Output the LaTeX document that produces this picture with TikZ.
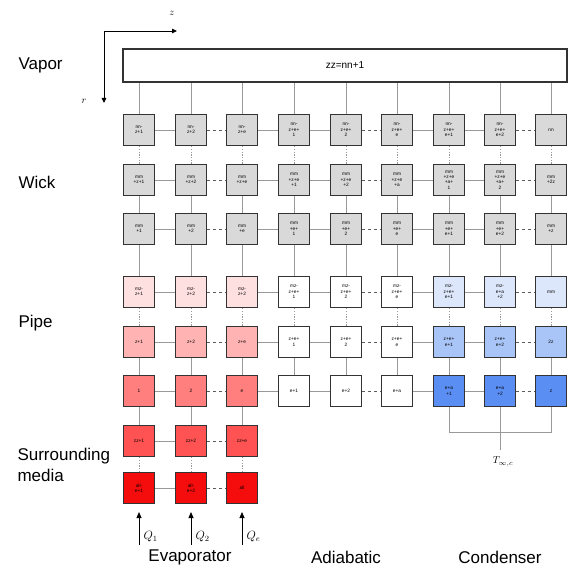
\documentclass[tikz,border=0pt]{standalone}
\usepackage{fontspec}
\setmainfont{Liberation Sans}
\usetikzlibrary{arrows.meta}
\definecolor{wickc}{HTML}{D9D9D9}
\definecolor{pa}{HTML}{FFE0E0}
\definecolor{pb}{HTML}{FFB3B3}
\definecolor{pc}{HTML}{FF7F7F}
\definecolor{pd}{HTML}{FF5252}
\definecolor{pe}{HTML}{F50D0D}
\definecolor{ba}{HTML}{DDE7FB}
\definecolor{bb}{HTML}{A9C5F7}
\definecolor{bc}{HTML}{5A8EF2}
\definecolor{lnc}{HTML}{999999}
\definecolor{bdc}{HTML}{333333}
\tikzset{
 cell/.style={draw=bdc,line width=1.4pt,minimum size=31pt,inner sep=0pt,align=center,
   font=\fontsize{4.8}{5.3}\selectfont},
 link/.style={draw=lnc,line width=0.9pt},
 dlink/.style={draw=bdc!80,line width=1pt,dash pattern=on 3pt off 3pt},
 vdot/.style={draw=lnc,line width=0.9pt,dash pattern=on 1.2pt off 1.5pt},
 lbl/.style={font=\fontsize{17}{20}\selectfont,align=left,anchor=west},
 sect/.style={font=\fontsize{17}{20}\selectfont},
}
\begin{document}
\begin{tikzpicture}[x=1pt,y=-1pt]
\useasboundingbox (0,0) rectangle (572,567);
% axes
\coordinate (ax) at (104,31);
\coordinate (az) at (177,31);
\coordinate (ar) at (104,103);
\draw[line width=0.9pt,-{Triangle[length=5pt,width=4.5pt]}] (ax) -- (az);
\draw[line width=0.9pt,-{Triangle[length=5pt,width=4.5pt]}] (ax) -- (ar);
\node (zl) at (172,13) {$z$};
\node (rl) at (84,101) {$r$};
% vapor
\node[draw=bdc,line width=1.1pt,minimum width=444pt,minimum height=33pt,inner sep=0pt,
  font=\fontsize{10}{11}\selectfont] (vap) at (345,65.5) {zz=nn+1};
% side labels
\node[lbl] (tv) at (15,65) {Vapor};
\node[lbl] (tw) at (15,182) {Wick};
\node[lbl] (tp) at (15,323) {Pipe};
\node[lbl,font=\fontsize{17}{21}\selectfont] (ts) at (14,465) {Surrounding\\media};
\node[sect] (te) at (190,557) {Evaporator};
\node[sect] (ta) at (346,557) {Adiabatic};
\node[sect] (tc) at (500,557) {Condenser};
% columns x
\def\cx#1{\ifcase#1\or139\or191\or242\or294\or346\or397\or449\or500\or551\fi}
% rows
\foreach \c/\t in {1/{nn-\\z+1},2/{nn-\\z+2},3/{nn-\\z+e},4/{nn-\\z+e+\\1},5/{nn-\\z+e+\\2},6/{nn-\\z+e+\\e},7/{nn-\\z+e+\\e+1},8/{nn-\\z+e+\\e+2},9/{nn}}
  \node[cell,fill=wickc] (r1c\c) at (\cx{\c},130) {\t};
\foreach \c/\t in {1/{mm\\+z+1},2/{mm\\+z+2},3/{mm\\+z+e},4/{mm\\+z+e\\+1},5/{mm\\+z+e\\+2},6/{mm\\+z+e\\+a},7/{mm\\+z+e\\+a+\\1},8/{mm\\+z+e\\+a+\\2},9/{mm\\+2z}}
  \node[cell,fill=wickc] (r2c\c) at (\cx{\c},180) {\t};
\foreach \c/\t in {1/{mm\\+1},2/{mm\\+2},3/{mm\\+e},4/{mm\\+e+\\1},5/{mm\\+e+\\2},6/{mm\\+e+\\e},7/{mm\\+e+\\e+1},8/{mm\\+e+\\e+2},9/{mm\\+z}}
  \node[cell,fill=wickc] (r3c\c) at (\cx{\c},229) {\t};
\foreach \c/\t/\f in {1/{mz-\\z+1}/pa,2/{mz-\\z+2}/pa,3/{mz-\\z+2}/pa,4/{mz-\\z+e+\\1}/white,5/{mz-\\z+e+\\2}/white,6/{mz-\\z+e+\\e}/white,7/{mz-\\z+e+\\e+1}/ba,8/{mz-\\e+a\\+2}/ba,9/{mm}/ba}
  \node[cell,fill=\f] (r4c\c) at (\cx{\c},292) {\t};
\foreach \c/\t/\f in {1/{z+1}/pb,2/{z+2}/pb,3/{z+e}/pb,4/{z+e+\\1}/white,5/{z+e+\\2}/white,6/{z+e+\\e}/white,7/{z+e+\\e+1}/bb,8/{z+e+\\e+2}/bb,9/{2z}/bb}
  \node[cell,fill=\f] (r5c\c) at (\cx{\c},342) {\t};
\foreach \c/\t/\f in {1/{1}/pc,2/{2}/pc,3/{e}/pc,4/{e+1}/white,5/{e+2}/white,6/{e+a}/white,7/{e+a\\+1}/bc,8/{e+a\\+2}/bc,9/{z}/bc}
  \node[cell,fill=\f] (r6c\c) at (\cx{\c},391) {\t};
\foreach \c/\t in {1/{zz+1},2/{zz+2},3/{zz+e}}
  \node[cell,fill=pd] (r7c\c) at (\cx{\c},441) {\t};
\foreach \c/\t in {1/{all-\\e+1},2/{all-\\e+2},3/{all}}
  \node[cell,fill=pe] (r8c\c) at (\cx{\c},488) {\t};
% horizontal connectors
\foreach \r in {1,...,6}{
  \foreach \a/\b in {1/2,3/4,4/5,6/7,7/8} \draw[link] (r\r c\a) -- (r\r c\b);
  \foreach \a/\b in {2/3,5/6,8/9} \draw[dlink] (r\r c\a) -- (r\r c\b);
}
\foreach \r in {7,8}{
  \draw[link] (r\r c1) -- (r\r c2);
  \draw[dlink] (r\r c2) -- (r\r c3);
}
% vertical connectors
\foreach \c in {1,...,9}{
  \draw[link] (r1c\c) -- (r1c\c |- vap.south);
  \draw[vdot] (r1c\c) -- (r2c\c);
  \draw[link] (r2c\c) -- (r3c\c);
  \draw[link] (r3c\c) -- (r4c\c);
  \draw[vdot] (r4c\c) -- (r5c\c);
  \draw[link] (r5c\c) -- (r6c\c);
}
\foreach \c in {1,2,3}{
  \draw[link] (r6c\c) -- (r7c\c);
  \draw[vdot] (r7c\c) -- (r8c\c);
}
% condenser boundary
\coordinate (k7) at (449,432);
\coordinate (k8) at (500,432);
\coordinate (k9) at (551,432);
\coordinate (kt) at (500,450);
\draw[link] (r6c7) -- (k7) -- (k9) -- (r6c9);
\draw[link] (r6c8) -- (kt);
\node (tinf) at (503,462) {$T_{\infty,c}$};
% heat inputs
\foreach \c/\q in {1/1,2/2,3/e}{
  \coordinate (q\c) at (\cx{\c},545);
  \coordinate (p\c) at (\cx{\c},512);
  \draw[line width=0.8pt,-{Triangle[length=6pt,width=5pt]}] (q\c) -- (p\c);
  \node[anchor=west,font=\large] (ql\c) at (\cx{\c}+1,537) {$Q_{\q}$};
}
\end{tikzpicture}
\end{document}
